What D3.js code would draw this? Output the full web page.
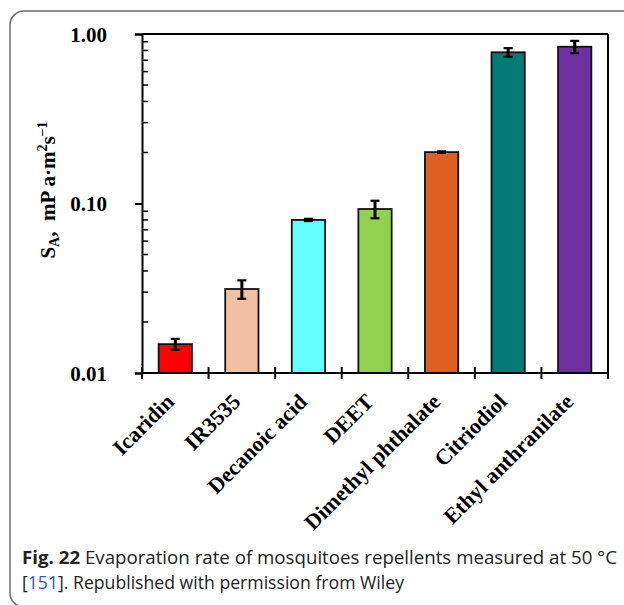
<!DOCTYPE html>
<html><head><meta charset="utf-8">
<script src="https://cdn.jsdelivr.net/npm/d3@7"></script>
<style>body{margin:0;background:#fff}svg{display:block}</style>
</head><body>
<svg id="c" width="624" height="605"></svg>
<script>
const categories = ["Icaridin","IR3535","Decanoic acid","DEET","Dimethyl phthalate","Citriodiol","Ethyl anthranilate"];
const values = [0.0148, 0.0313, 0.080, 0.0928, 0.201, 0.780, 0.841];
const errors = [0.0011, 0.0039, 0.0012, 0.011, 0.002, 0.045, 0.07];
const colors = ["#ff0000","#f2bfa0","#66ffff","#92d050","#df5f22","#007b76","#7030a0"];
const yTicks = [0.01, 0.1, 1];
const yTickLabels = ["0.01","0.10","1.00"];

const svg = d3.select("#c");
const L = 142, R = 608, T = 34, B = 373;
const serif = "'Liberation Serif','Times New Roman',serif";

// outer rounded frame
svg.append("rect").attr("x",10).attr("y",11).attr("width",700).attr("height",596)
  .attr("rx",14).attr("fill","none").attr("stroke","#6b6b6b").attr("stroke-width",1.5);

const x = d3.scaleBand().domain(categories).range([L,R]).paddingInner(0.5).paddingOuter(0.25);
const y = d3.scaleLog().domain([0.01,1]).range([B,T]);

// minor ticks (inside)
const minor = [];
[0.01,0.1].forEach(d=>{for(let k=2;k<=9;k++) minor.push(d*k);});
svg.append("g").selectAll("line").data(minor).join("line")
  .attr("x1",L).attr("x2",L+6).attr("y1",d=>y(d)).attr("y2",d=>y(d))
  .attr("stroke","#000").attr("stroke-width",1.5);

// left axis with major ticks
const yAxis = d3.axisLeft(y).tickValues(yTicks).tickFormat((d,i)=>yTickLabels[i]).tickSize(7);
const gy = svg.append("g").attr("transform",`translate(${L},0)`).call(yAxis);
gy.select(".domain").attr("stroke","#000").attr("stroke-width",2);
gy.selectAll(".tick line").attr("stroke","#000").attr("stroke-width",2);
gy.selectAll(".tick text").attr("font-family",serif)
  .attr("font-weight","bold").attr("font-size",21).attr("fill","#000").attr("x",-35).attr("dy","0.35em");

// top and right frame
svg.append("line").attr("x1",L).attr("x2",R).attr("y1",T).attr("y2",T).attr("stroke","#000").attr("stroke-width",2);
svg.append("line").attr("x1",R).attr("x2",R).attr("y1",T).attr("y2",B+6).attr("stroke","#000").attr("stroke-width",2);

// bars
svg.append("g").selectAll("rect").data(categories).join("rect")
  .attr("x",d=>x(d)).attr("width",x.bandwidth())
  .attr("y",(d,i)=>y(values[i])).attr("height",(d,i)=>B-y(values[i]))
  .attr("fill",(d,i)=>colors[i]).attr("stroke","#111").attr("stroke-width",1.8);

// error bars
const eg = svg.append("g").attr("stroke","#000").attr("stroke-width",2.2);
categories.forEach((c,i)=>{
  const cx = x(c)+x.bandwidth()/2;
  const y1 = y(values[i]+errors[i]), y2 = y(Math.max(values[i]-errors[i],0.0001));
  eg.append("line").attr("x1",cx).attr("x2",cx).attr("y1",y1).attr("y2",y2).attr("stroke-width",3);
  eg.append("line").attr("x1",cx-4.5).attr("x2",cx+4.5).attr("y1",y1).attr("y2",y1);
  eg.append("line").attr("x1",cx-4.5).attr("x2",cx+4.5).attr("y1",y2).attr("y2",y2);
});

// bottom axis
const step = x.step();
const bounds = d3.range(categories.length).map(i=>L+i*step);
svg.append("line").attr("x1",L).attr("x2",R).attr("y1",B).attr("y2",B).attr("stroke","#000").attr("stroke-width",2);
svg.append("g").selectAll("line").data(bounds).join("line")
  .attr("x1",d=>d).attr("x2",d=>d).attr("y1",B-6).attr("y2",B+6)
  .attr("stroke","#000").attr("stroke-width",2);

// x labels
svg.append("g").selectAll("text").data(categories).join("text")
  .attr("transform",d=>`translate(${x(d)+x.bandwidth()/2},${B+30}) rotate(-45)`)
  .attr("text-anchor","end")
  .attr("font-family",serif).attr("font-weight","bold")
  .attr("font-size",22).attr("fill","#000").text(d=>d);

// y label
const yl = svg.append("text").attr("transform","translate(55,190) rotate(-90)")
  .attr("text-anchor","middle").attr("font-family",serif).attr("xml:space","preserve")
  .attr("font-weight","bold").attr("font-size",21).attr("fill","#000");
yl.append("tspan").text("S");
yl.append("tspan").attr("font-size",14).attr("dy",4).text("A");
yl.append("tspan").attr("dy",-4).text(",  mP a·m");
yl.append("tspan").attr("font-size",14).attr("dy",-8).text("2");
yl.append("tspan").attr("dy",8).text("s");
yl.append("tspan").attr("font-size",14).attr("dy",-8).text("−1");

// caption
const cap = svg.append("g").attr("font-family","'Open Sans','Noto Sans',sans-serif").attr("font-size",18).attr("fill","#222");
const t1 = cap.append("text").attr("x",22).attr("y",564).attr("textLength",595).attr("lengthAdjust","spacingAndGlyphs");
t1.append("tspan").attr("font-weight","bold").text("Fig. 22");
t1.append("tspan").text("  Evaporation rate of mosquitoes repellents measured at 50 °C");
const t2 = cap.append("text").attr("x",22).attr("y",589).attr("textLength",382).attr("lengthAdjust","spacingAndGlyphs");
t2.append("tspan").text("[");
t2.append("tspan").attr("fill","#2a5db0").text("151");
t2.append("tspan").text("]. Republished with permission from Wiley");
</script>
</body></html>
